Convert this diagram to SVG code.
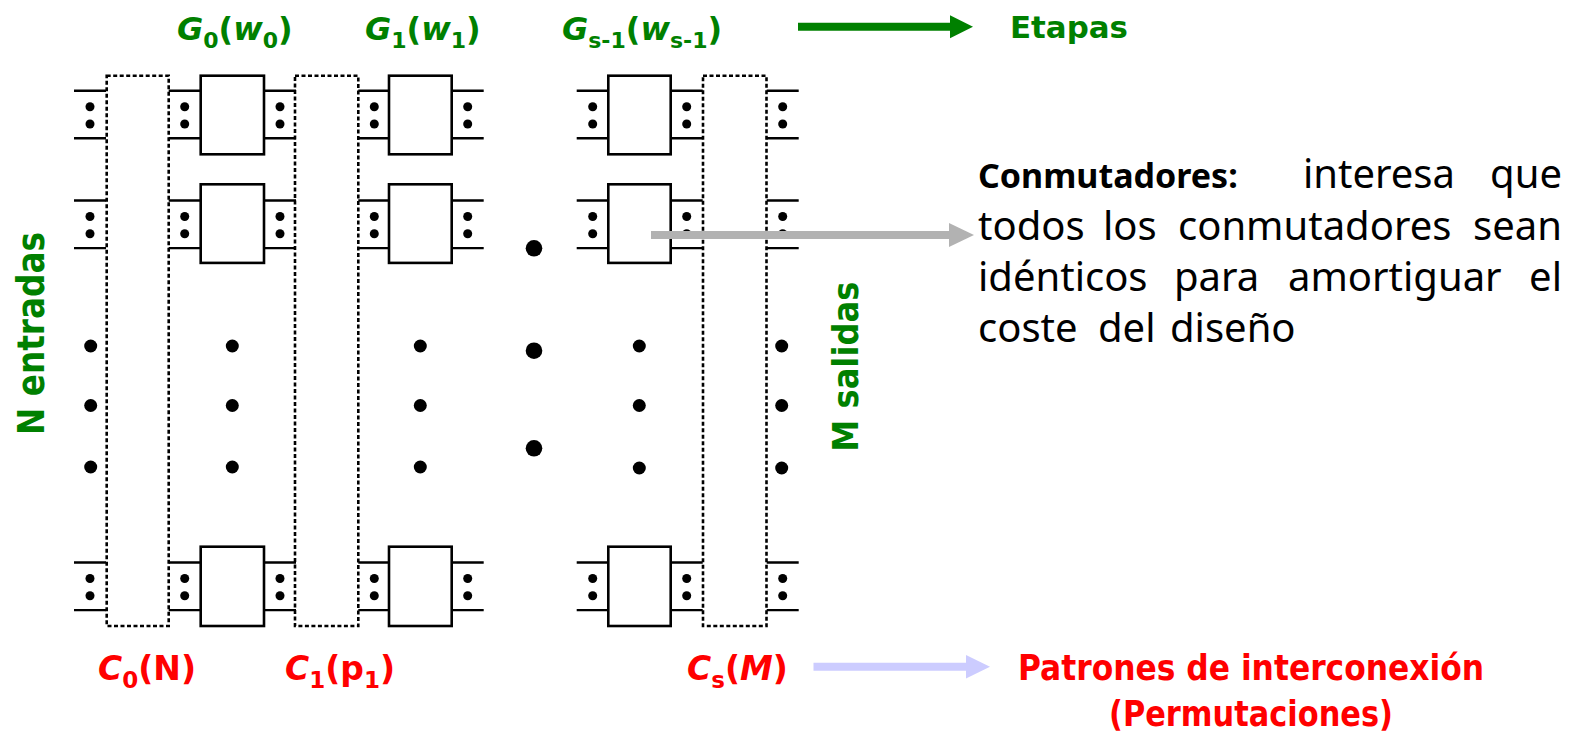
<svg xmlns="http://www.w3.org/2000/svg" xmlns:xlink="http://www.w3.org/1999/xlink" width="1577" height="741" viewBox="0 0 1577 741">
<style>
.ln{stroke:#000;stroke-width:2.4;fill:none}
.dot{fill:#000}
.box{fill:#fff;stroke:#000;stroke-width:2.6}
.perm{fill:none;stroke:#000;stroke-width:2.6;stroke-dasharray:4 2.5}
.gl{font-family:"DejaVu Sans",sans-serif;font-weight:bold;fill:#008000}
.rl{font-family:"DejaVu Sans",sans-serif;font-weight:bold;fill:#ff0000}
.it{font-style:italic}
.body{font-family:"Noto Sans","DejaVu Sans",sans-serif;font-size:40px;fill:#000}
.bb{font-family:"Noto Sans","DejaVu Sans",sans-serif;font-size:34px;font-weight:bold;fill:#000}
</style>
<defs>
<g id="port">
<path class="ln" d="M0 0H32M0 47.6H32"/>
<circle class="dot" cx="16" cy="16" r="4.5"/>
<circle class="dot" cx="16" cy="33.3" r="4.5"/>
</g>
</defs>

<g id="ports">
<use xlink:href="#port" x="74" y="90.7"/><use xlink:href="#port" x="168.7" y="90.7"/><use xlink:href="#port" x="264" y="90.7"/><use xlink:href="#port" x="358.3" y="90.7"/><use xlink:href="#port" x="451.7" y="90.7"/><use xlink:href="#port" x="576.7" y="90.7"/><use xlink:href="#port" x="670.7" y="90.7"/><use xlink:href="#port" x="766.7" y="90.7"/>
<use xlink:href="#port" x="74" y="200.5"/><use xlink:href="#port" x="168.7" y="200.5"/><use xlink:href="#port" x="264" y="200.5"/><use xlink:href="#port" x="358.3" y="200.5"/><use xlink:href="#port" x="451.7" y="200.5"/><use xlink:href="#port" x="576.7" y="200.5"/><use xlink:href="#port" x="670.7" y="200.5"/><use xlink:href="#port" x="766.7" y="200.5"/>
<use xlink:href="#port" x="74" y="562.5"/><use xlink:href="#port" x="168.7" y="562.5"/><use xlink:href="#port" x="264" y="562.5"/><use xlink:href="#port" x="358.3" y="562.5"/><use xlink:href="#port" x="451.7" y="562.5"/><use xlink:href="#port" x="576.7" y="562.5"/><use xlink:href="#port" x="670.7" y="562.5"/><use xlink:href="#port" x="766.7" y="562.5"/>
</g>

<g id="C0"><rect class="perm" x="106.7" y="75.7" width="62" height="550.3"/></g>
<g id="C1"><rect class="perm" x="295" y="75.7" width="63.3" height="550.3"/></g>
<g id="Cs"><rect class="perm" x="703" y="75.7" width="63.5" height="550.3"/></g>

<g id="G0">
<rect class="box" x="200.7" y="75.7" width="63.3" height="78.6"/>
<rect class="box" x="200.7" y="184.3" width="63.3" height="78.6"/>
<rect class="box" x="200.7" y="546.7" width="63.3" height="79.3"/>
</g>
<g id="G1">
<rect class="box" x="389" y="75.7" width="62.7" height="78.6"/>
<rect class="box" x="389" y="184.3" width="62.7" height="78.6"/>
<rect class="box" x="389" y="546.7" width="62.7" height="79.3"/>
</g>
<g id="Gs1">
<rect class="box" x="608.3" y="75.7" width="62.4" height="78.6"/>
<rect class="box" x="608.3" y="184.3" width="62.4" height="78.6"/>
<rect class="box" x="608.3" y="546.7" width="62.4" height="79.3"/>
</g>

<g id="ellipsis">
<circle class="dot" cx="90.7" cy="346" r="6.5"/><circle class="dot" cx="90.7" cy="405.5" r="6.5"/><circle class="dot" cx="90.7" cy="467" r="6.5"/>
<circle class="dot" cx="232.3" cy="346" r="6.5"/><circle class="dot" cx="232.3" cy="405.5" r="6.5"/><circle class="dot" cx="232.3" cy="467" r="6.5"/>
<circle class="dot" cx="420.3" cy="346" r="6.5"/><circle class="dot" cx="420.3" cy="405.5" r="6.5"/><circle class="dot" cx="420.3" cy="467" r="6.5"/>
<circle class="dot" cx="639.3" cy="346" r="6.5"/><circle class="dot" cx="639.3" cy="405.5" r="6.5"/><circle class="dot" cx="639.3" cy="468" r="6.5"/>
<circle class="dot" cx="781.7" cy="346" r="6.5"/><circle class="dot" cx="781.7" cy="405.5" r="6.5"/><circle class="dot" cx="781.7" cy="468" r="6.5"/>
<circle class="dot" cx="534" cy="248.3" r="8.3"/><circle class="dot" cx="534" cy="350.7" r="8.3"/><circle class="dot" cx="534" cy="448.3" r="8.3"/>
</g>

<g id="labels">
<text class="gl" x="177" y="40" font-size="32"><tspan class="it">G</tspan><tspan font-size="22" dy="8">0</tspan><tspan dy="-8">(</tspan><tspan class="it">w</tspan><tspan font-size="22" dy="8">0</tspan><tspan dy="-8">)</tspan></text>
<text class="gl" x="365" y="40" font-size="32"><tspan class="it">G</tspan><tspan font-size="22" dy="8">1</tspan><tspan dy="-8">(</tspan><tspan class="it">w</tspan><tspan font-size="22" dy="8">1</tspan><tspan dy="-8">)</tspan></text>
<text class="gl" x="562" y="40" font-size="32"><tspan class="it">G</tspan><tspan font-size="22" dy="8">s-1</tspan><tspan dy="-8">(</tspan><tspan class="it">w</tspan><tspan font-size="22" dy="8">s-1</tspan><tspan dy="-8">)</tspan></text>
<text class="gl" x="1010" y="38" font-size="31" textLength="118" lengthAdjust="spacingAndGlyphs">Etapas</text>
<text class="gl" font-size="37" transform="translate(43.5,435) rotate(-90)" textLength="203" lengthAdjust="spacingAndGlyphs">N entradas</text>
<text class="gl" font-size="36" transform="translate(858.3,451.7) rotate(-90)" textLength="170" lengthAdjust="spacingAndGlyphs">M salidas</text>
<text class="rl" x="98" y="680" font-size="33"><tspan class="it">C</tspan><tspan font-size="23" dy="8">0</tspan><tspan dy="-8">(N)</tspan></text>
<text class="rl" x="285" y="680" font-size="33"><tspan class="it">C</tspan><tspan font-size="23" dy="8">1</tspan><tspan dy="-8">(p</tspan><tspan font-size="23" dy="8">1</tspan><tspan dy="-8">)</tspan></text>
<text class="rl" x="687" y="680" font-size="33"><tspan class="it">C</tspan><tspan font-size="23" dy="8">s</tspan><tspan dy="-8">(</tspan><tspan class="it">M</tspan><tspan>)</tspan></text>
<text class="rl" x="1018" y="680" font-size="35" textLength="466" lengthAdjust="spacingAndGlyphs">Patrones de interconexión</text>
<text class="rl" x="1109" y="726" font-size="35" textLength="284" lengthAdjust="spacingAndGlyphs">(Permutaciones)</text>
</g>

<g id="note">
<text class="bb" x="978" y="188.3">Conmutadores:</text>
<text class="body" y="188.3"><tspan x="1303">interesa</tspan><tspan x="1562" text-anchor="end">que</tspan></text>
<text class="body" y="240"><tspan x="978">todos</tspan><tspan x="1103">los</tspan><tspan x="1178">conmutadores</tspan></text>
<text class="body" x="1562" y="240" text-anchor="end">sean</text>
<text class="body" y="290.7"><tspan x="978">idénticos</tspan><tspan x="1174">para</tspan><tspan x="1288">amortiguar</tspan></text>
<text class="body" x="1562" y="290.7" text-anchor="end">el</text>
<text class="body" y="341.7"><tspan x="978">coste</tspan><tspan x="1098">del</tspan><tspan x="1170">diseño</tspan></text>
</g>

<g id="connectors">
<path d="M798 26.7H951" stroke="#008000" stroke-width="8" fill="none"/>
<path d="M950 15.2L973 26.7L950 38.2Z" fill="#008000"/>
<path d="M651 235H950" stroke="#b2b2b2" stroke-width="8" fill="none"/>
<path d="M949 223L974 235L949 247Z" fill="#b2b2b2"/>
<path d="M813.5 666.7H967" stroke="#ccccff" stroke-width="8" fill="none"/>
<path d="M966 655L990 666.7L966 678.4Z" fill="#ccccff"/>
</g>
</svg>
